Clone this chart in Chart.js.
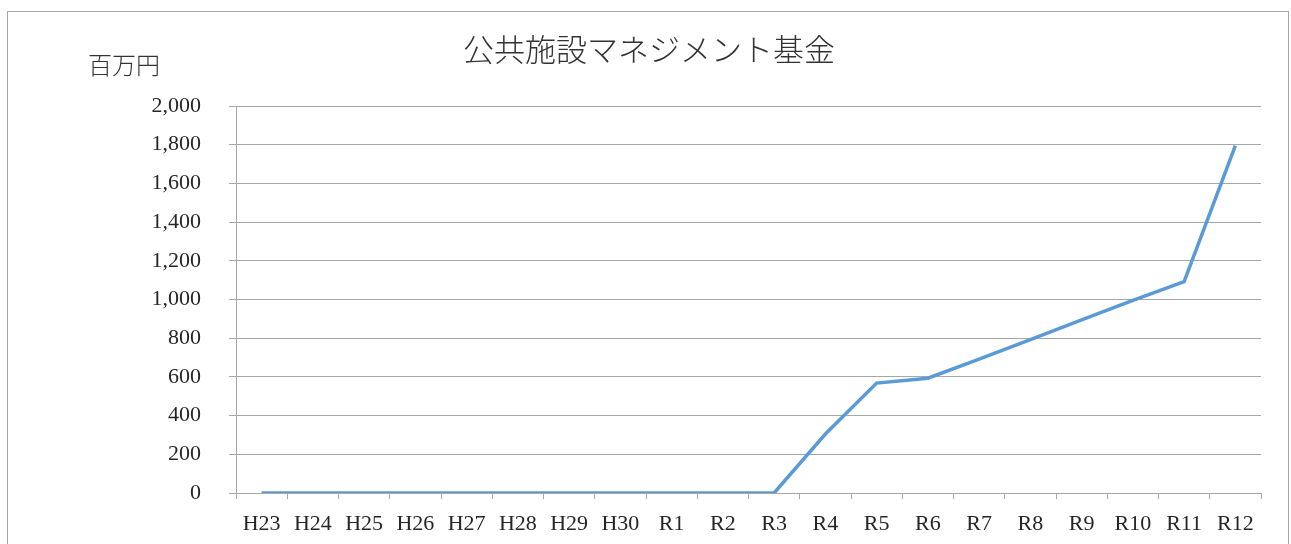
<!DOCTYPE html>
<html>
<head>
<meta charset="utf-8">
<script src="https://cdn.jsdelivr.net/npm/chart.js@4/dist/chart.umd.min.js"></script>
<style>
  html, body { margin: 0; padding: 0; background: #fff; }
  #wrap { width: 1291px; height: 544px; position: relative; }
</style>
</head>
<body>
<div id="wrap"><canvas id="kikin-grafica" width="1291" height="544"></canvas></div>
<script>
const nendo = ['H23','H24','H25','H26','H27','H28','H29','H30','R1','R2','R3','R4','R5','R6','R7','R8','R9','R10','R11','R12'];
const kikinZandaka = [0,0,0,0,0,0,0,0,0,0,0,305,568,593,692,793,895,995,1092,1795];
const yTicks = [0,200,400,600,800,1000,1200,1400,1600,1800,2000];

const fuente = '"Liberation Serif", "Noto Sans CJK JP", serif';

// marco, titulo y unidad
const decorado = {
    id: 'decorado',
    beforeDraw(chart) {
        const c = chart.ctx;
        c.save();
        c.fillStyle = '#fff';
        c.fillRect(0, 0, chart.width, chart.height);
        c.strokeStyle = '#A6A6A6';
        c.lineWidth = 1;
        c.strokeRect(7.5, 11.5, 1281, 600);
        c.restore();
    },
    afterDraw(chart) {
        const c = chart.ctx;
        c.save();
        c.fillStyle = '#333';
        c.textBaseline = 'middle';
        c.textAlign = 'center';
        c.font = '300 31px ' + fuente;
        c.fillText('公共施設マネジメント基金', 649, 53);
        c.textAlign = 'left';
        c.font = '300 24px ' + fuente;
        c.fillText('百万円', 88, 68);
        c.restore();
    }
};

const ctx = document.getElementById('kikin-grafica').getContext('2d');
const myChart = new Chart(ctx, {
    type: 'line',
    data: {
        labels: nendo,
        datasets: [{
            label: '公共施設マネジメント基金',
            data: kikinZandaka,
            borderColor: '#5B9BD5',
            borderWidth: 3.5,
            pointRadius: 0,
            tension: 0,
            fill: false
        }]
    },
    options: {
        responsive: false,
        animation: false,
        layout: { padding: { top: 106, right: 30, left: 0, bottom: 0 } },
        scales: {
            x: {
                offset: true,
                afterFit(scale) { scale.height = 51; },
                grid: {
                    offset: true,
                    drawOnChartArea: false,
                    tickLength: 6,
                    color: '#A6A6A6'
                },
                border: { color: '#A6A6A6' },
                ticks: {
                    color: '#262626',
                    padding: 12,
                    maxRotation: 0,
                    autoSkip: false,
                    font: { family: fuente, size: 22 }
                }
            },
            y: {
                min: 0,
                max: 2000,
                afterFit(scale) { scale.width = 236; },
                afterBuildTicks(scale) { scale.ticks = yTicks.map(v => ({ value: v })); },
                grid: {
                    color: '#A6A6A6',
                    tickLength: 7
                },
                border: { color: '#A6A6A6' },
                ticks: {
                    color: '#262626',
                    padding: 28,
                    font: { family: fuente, size: 22 },
                    callback: v => v.toLocaleString('en-US')
                }
            }
        },
        plugins: {
            legend: { display: false },
            title: { display: false },
            tooltip: { enabled: false }
        }
    },
    plugins: [decorado]
});
</script>
</body>
</html>
